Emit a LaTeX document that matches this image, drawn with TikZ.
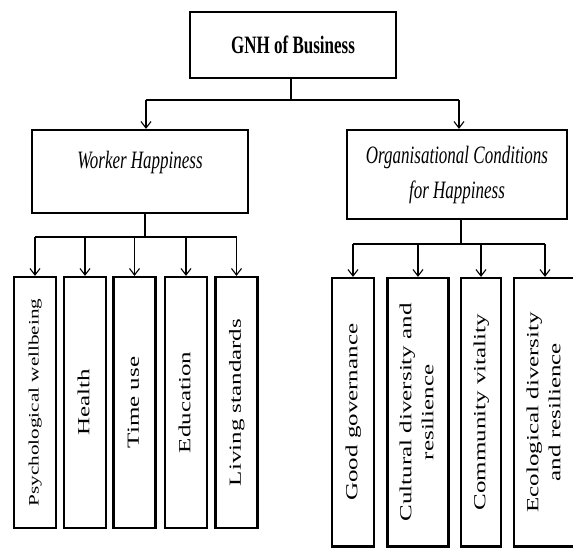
\documentclass[tikz,border=0pt]{standalone}
\usepackage{fontspec}
\setmainfont{Liberation Serif}
\newfontfamily\flatfont[FakeStretch=0.68]{Liberation Serif}
\newfontfamily\tallfont[FakeStretch=1.47]{Liberation Serif}
\usetikzlibrary{arrows.meta,positioning}
\newcommand{\UP}[1]{\rotatebox{90}{\begin{tabular}{@{}c@{}}#1\end{tabular}}}

\begin{document}
\begin{tikzpicture}[x=1pt,y=1pt,
  box/.style={draw,line width=2.2pt,inner sep=0pt,align=center},
  head/.style={box,font=\flatfont\fontsize{25}{35}\selectfont},
  leaf/.style={box,minimum width=42pt,font=\tallfont\fontsize{17}{22}\selectfont},
  link/.style={line width=1.1pt},
  arr/.style={link,-{Straight Barb[length=6.5pt,width=10pt]}}]
  \useasboundingbox (0,0) rectangle (573,548);

  % top box
  \node[head,minimum width=206pt,minimum height=66pt,font=\flatfont\bfseries\fontsize{25}{30}\selectfont] (gnh) at (293,503) {GNH of Business};

  % second level
  \node[head,minimum width=216pt,minimum height=83pt,text depth=24pt] (wh) at (140,376.5) {\itshape Worker Happiness};
  \node[head,minimum width=220pt,minimum height=89pt] (och) at (457,373.5) {\itshape Organisational Conditions\\\itshape for Happiness};

  % worker happiness leaves
  \node[leaf,minimum height=251pt,font=\tallfont\fontsize{14.4}{18}\selectfont] (pw) at (35,145.5) {\UP{Psychological wellbeing}};
  \node[leaf,minimum height=251pt] (he) at (85,145.5) {\UP{Health}};
  \node[leaf,minimum height=251pt] (tu) at (134.5,145.5) {\UP{Time use}};
  \node[leaf,minimum height=251pt] (ed) at (186,145.5) {\UP{Education}};
  \node[leaf,minimum height=251pt] (ls) at (236.5,145.5) {\UP{Living standards}};

  % organisational conditions leaves
  \node[leaf,minimum height=268.5pt] (gg) at (353,135.75) {\UP{Good governance}};
  \node[leaf,minimum height=268.5pt,minimum width=61pt] (cd) at (418,135.75) {\UP{Cultural diversity and\\resilience}};
  \node[leaf,minimum height=268.5pt,minimum width=40pt] (cv) at (481,135.75) {\UP{Community vitality}};
  \node[leaf,minimum height=268.5pt,minimum width=62pt] (ec) at (545,135.75) {\UP{Ecological diversity\\and resilience}};

  % top connectors
  \coordinate (tj) at (291,448);
  \coordinate (wa) at (146,448);
  \coordinate (oa) at (459,448);
  \draw[link] (gnh.south -| tj) -- (tj);
  \draw[link] (wa) -- (oa);
  \draw[arr] (wa) -- (wa |- wh.north);
  \draw[arr] (oa) -- (oa |- och.north);

  % worker connectors
  \coordinate (wj) at (145,311);
  \draw[link] (wh.south -| wj) -- (wj);
  \draw[link] (wj -| pw) -- (wj -| ls);
  \foreach \n in {pw,he,tu,ed,ls}
    \draw[arr] (wj -| \n.north) -- (\n.north);

  % organisational connectors
  \coordinate (oj) at (461,304);
  \draw[link] (och.south -| oj) -- (oj);
  \draw[link] (oj -| gg) -- (oj -| ec);
  \foreach \n in {gg,cd,cv,ec}
    \draw[arr] (oj -| \n.north) -- (\n.north);
\end{tikzpicture}
\end{document}
